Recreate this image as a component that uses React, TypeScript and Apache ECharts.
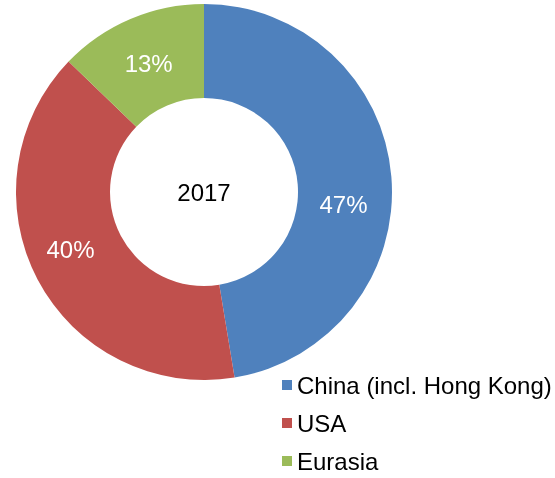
import React, { useEffect, useRef } from "react";
import * as echarts from "echarts";

const categories = ["China (incl. Hong Kong)", "USA", "Eurasia"];
const values = [47.4, 39.8, 12.8];
const colors = ["#4F81BD", "#C0504D", "#9BBB59"];
const centerLabel = "2017";

export default function App() {
  const ref = useRef<HTMLDivElement>(null);
  useEffect(() => {
    if (!ref.current) return;
    const chart = echarts.init(ref.current, undefined, { renderer: "svg" });
    const font = "Liberation Sans, Arial, sans-serif";
    chart.setOption({
      animation: false,
      textStyle: { fontFamily: font },
      legend: {
        orient: "vertical",
        left: 282,
        top: 373,
        height: 104,
        padding: 0,
        icon: "rect",
        itemWidth: 10,
        itemHeight: 10,
        itemGap: 14,
        selectedMode: false,
        textStyle: { fontSize: 24, lineHeight: 24, color: "#000", fontFamily: font },
        data: categories,
      },
      graphic: [
        {
          type: "text",
          x: 204,
          y: 192,
          style: {
            text: centerLabel,
            fontSize: 24,
            fill: "#000",
            fontFamily: font,
            align: "center",
            verticalAlign: "middle",
          },
        },
      ],
      series: [
        {
          type: "pie",
          center: [204, 192],
          radius: [94, 188],
          startAngle: 90,
          clockwise: true,
          avoidLabelOverlap: false,
          label: {
            show: true,
            position: "inside",
            color: "#fff",
            fontSize: 24,
            fontFamily: font,
            formatter: (p: any) => Math.round(p.percent) + "%",
          },
          labelLine: { show: false },
          labelLayout: (p: any) =>
            p.dataIndex === 0 ? { dx: -4, dy: 24 } : p.dataIndex === 1 ? { dx: -6, dy: -9 } : { dx: 1, dy: 4 },
          emphasis: { disabled: true },
          itemStyle: { borderWidth: 0 },
          data: categories.map((c, i) => ({ name: c, value: values[i], itemStyle: { color: colors[i] } })),
        },
      ],
    });
    return () => chart.dispose();
  }, []);
  return <div ref={ref} style={{ position: "fixed", left: 0, top: 0, width: 555, height: 478 }} />;
}
